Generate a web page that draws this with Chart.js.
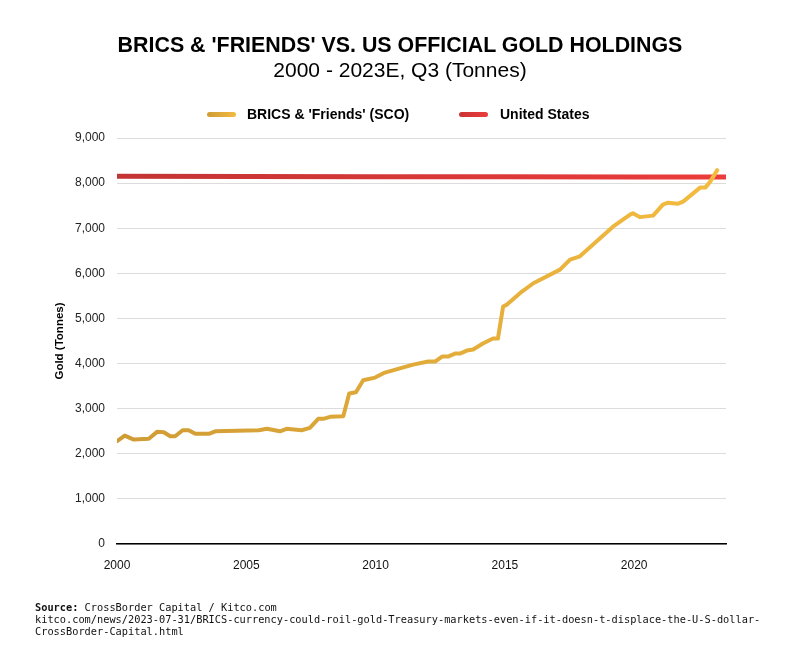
<!DOCTYPE html>
<html>
<head>
<meta charset="utf-8">
<script src="https://cdn.jsdelivr.net/npm/chart.js@4.4.0/dist/chart.umd.min.js"></script>
<style>
html,body{margin:0;padding:0;background:#fff;}
#wrap{position:relative;width:800px;height:655px;overflow:hidden;font-family:"Liberation Sans",Arial,Helvetica,sans-serif;color:#000;}
#c{position:absolute;left:0;top:0;}
.t{position:absolute;left:0;width:800px;text-align:center;white-space:nowrap;font-size:21px;line-height:24px;}
#title{top:33px;font-weight:bold;font-size:21.4px;}
#sub{top:58px;}
.lg{position:absolute;top:106px;font-size:14px;line-height:16px;font-weight:bold;white-space:nowrap;}
.sw{position:absolute;top:112px;width:29px;height:5px;border-radius:3px;}
#src{position:absolute;left:35px;top:601px;font-family:"DejaVu Sans Mono","Liberation Mono",monospace;font-size:10.3px;line-height:12px;color:#111;white-space:nowrap;}
</style>
</head>
<body>
<div id="wrap">
  <canvas id="c" width="800" height="655"></canvas>
  <div class="t" id="title">BRICS &amp; 'FRIENDS' VS. US OFFICIAL GOLD HOLDINGS</div>
  <div class="t" id="sub">2000 - 2023E, Q3 (Tonnes)</div>
  <div class="sw" style="left:207px;background:linear-gradient(90deg,#CF9B34,#F2BB40);"></div>
  <div class="lg" id="lg1" style="left:247px;"></div>
  <div class="sw" style="left:459px;background:linear-gradient(90deg,#C93434,#EC3C3C);"></div>
  <div class="lg" id="lg2" style="left:500px;"></div>
  <div id="src"><b>Source:</b> CrossBorder Capital / Kitco.com<br>kitco.com/news/2023-07-31/BRICS-currency-could-roil-gold-Treasury-markets-even-if-it-doesn-t-displace-the-U-S-dollar-<br>CrossBorder-Capital.html</div>
</div>
<script>
// ---- data ----
const seriesNames = ["BRICS & 'Friends' (SCO)", "United States"];
const bricsYears = [2000.00,2000.30,2000.65,2001.23,2001.55,2001.81,2002.06,2002.25,2002.54,2002.77,2003.03,2003.55,2003.80,2005.48,2005.80,2006.30,2006.56,2007.14,2007.46,2007.78,2007.98,2008.24,2008.75,2008.98,2009.24,2009.52,2009.98,2010.36,2011.45,2012.03,2012.30,2012.57,2012.80,2013.07,2013.26,2013.53,2013.77,2014.15,2014.54,2014.73,2014.93,2015.08,2015.66,2016.10,2017.13,2017.52,2017.90,2019.18,2019.84,2019.95,2020.22,2020.73,2021.11,2021.31,2021.70,2021.89,2022.55,2022.75,2022.94,2023.21];
const bricsTonnes = [2278,2404,2315,2331,2486,2477,2389,2389,2522,2522,2442,2442,2499,2522,2553,2499,2553,2522,2575,2774,2774,2819,2832,3335,3364,3629,3689,3800,3977,4044,4044,4155,4155,4221,4221,4288,4310,4443,4554,4554,5263,5307,5595,5780,6082,6304,6377,7035,7301,7334,7246,7279,7523,7567,7545,7589,7900,7900,8033,8287];
const usYears = [2000, 2005, 2010, 2015, 2020, 2023.55];
const usTonnes = [8150, 8146, 8142, 8139, 8136, 8134];
const xTickYears = [2000, 2005, 2010, 2015, 2020];
const yMin = 0, yMax = 9000, yStep = 1000;

document.getElementById('lg1').textContent = seriesNames[0];
document.getElementById('lg2').textContent = seriesNames[1];

function grad(c0, c1) {
  return (ctx) => {
    const ch = ctx.chart, a = ch.chartArea;
    if (!a) return c1;
    const g = ch.ctx.createLinearGradient(a.left, 0, a.right, 0);
    g.addColorStop(0, c0);
    g.addColorStop(1, c1);
    return g;
  };
}

new Chart(document.getElementById('c'), {
  type: 'line',
  data: {
    datasets: [
      {
        label: seriesNames[0],
        data: bricsYears.map((x, i) => ({x: x, y: bricsTonnes[i]})),
        borderColor: grad('#CF9B34', '#F4BC40'),
        borderWidth: 4,
        pointRadius: 0,
        tension: 0,
        borderJoinStyle: 'round',
        borderCapStyle: 'round',
        fill: false
      },
      {
        label: seriesNames[1],
        data: usYears.map((x, i) => ({x: x, y: usTonnes[i]})),
        borderColor: grad('#C33434', '#EC3B3B'),
        borderWidth: 5,
        pointRadius: 0,
        tension: 0,
        borderCapStyle: 'round',
        fill: false
      }
    ]
  },
  options: {
    responsive: false,
    devicePixelRatio: 1,
    animation: false,
    layout: {padding: {left: 46, right: 74, top: 138, bottom: 81}},
    plugins: {legend: {display: false}, tooltip: {enabled: false}, title: {display: false}},
    scales: {
      x: {
        type: 'linear',
        min: 2000,
        max: 2023.55,
        afterBuildTicks: (s) => { s.ticks = xTickYears.map(v => ({value: v})); },
        afterFit: (s) => { s.height = 30; },
        ticks: {
          callback: (v) => String(v),
          font: {family: '"Liberation Sans", Arial, sans-serif', size: 12},
          color: '#111',
          padding: 14,
          maxRotation: 0,
          autoSkip: false
        },
        grid: {display: false, drawTicks: false},
        border: {display: true, color: '#000', width: 1.5}
      },
      y: {
        min: yMin,
        max: yMax,
        afterFit: (s) => { s.width = 71; },
        ticks: {
          stepSize: yStep,
          font: {family: '"Liberation Sans", Arial, sans-serif', size: 12},
          color: '#222',
          padding: 12
        },
        grid: {color: '#dcdcdc', lineWidth: 1, drawTicks: false},
        border: {display: false},
        title: {
          display: true,
          text: 'Gold (Tonnes)',
          font: {family: '"Liberation Sans", Arial, sans-serif', size: 11.5, weight: 'bold'},
          color: '#000',
          padding: {top: 7, bottom: 0}
        }
      }
    }
  }
});
</script>
</body>
</html>
